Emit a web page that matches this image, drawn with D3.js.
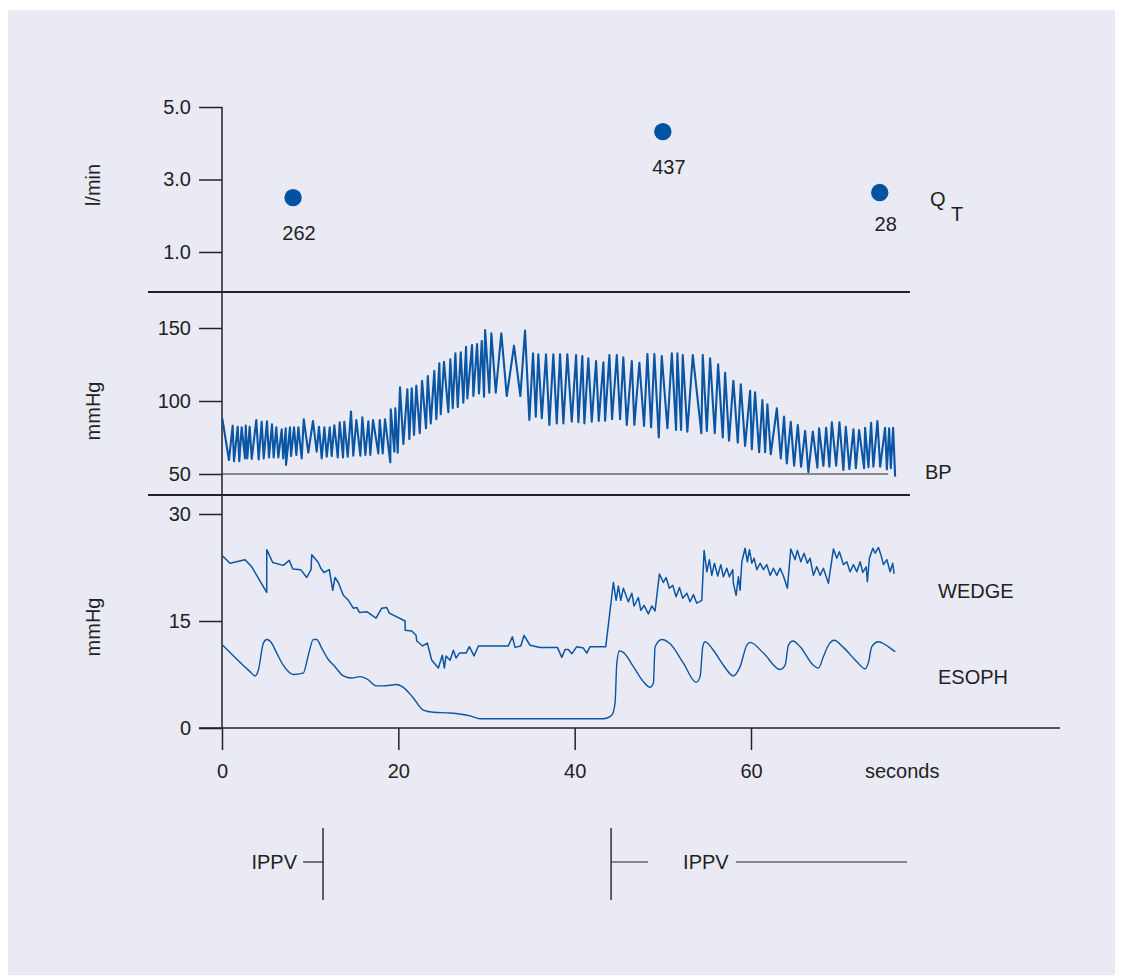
<!DOCTYPE html>
<html>
<head>
<meta charset="utf-8">
<script src="https://cdn.jsdelivr.net/npm/d3@7"></script>
<style>
  html, body { margin: 0; padding: 0; background: #ffffff; }
  svg { display: block; }
  text { font-family: "Liberation Sans", Arial, Helvetica, sans-serif; fill: #222; }
</style>
</head>
<body>
<svg id="chart" width="1122" height="979"></svg>
<script>
// ---------------- DATA ----------------
// Cardiac output (QT) samples: time (s), l/min, label
const qtTime = [8.06, 50.0, 74.6];
const qtValue = [2.5, 4.32, 2.64];
const qtLabels = ["262", "437", "28"];

// Tick labels
const qTicks = [5.0, 3.0, 1.0];
const bpTicks = [150, 100, 50];
const pTicks = [30, 15, 0];
const xTicks = [0, 20, 40, 60];

// Arterial blood pressure trace (mmHg) - alternating peaks / troughs
const bpTime = [0.03,0.79,1.21,1.36,1.78,1.96,2.23,2.61,2.69,2.87,3.14,3.37,3.89,4.16,4.50,4.73,5.10,5.33,5.67,5.86,6.16,6.39,6.77,6.95,7.23,7.26,7.71,7.83,8.17,8.43,8.66,9.04,9.27,9.79,10.32,10.74,11.00,11.31,11.61,11.88,12.22,12.44,12.74,13.13,13.35,13.73,13.87,14.26,14.63,14.89,15.24,15.69,15.92,16.26,16.60,16.82,17.13,17.73,17.89,18.23,18.49,19.09,19.14,19.55,19.66,19.93,20.19,20.57,21.02,21.25,21.52,21.78,22.04,22.43,22.69,23.14,23.34,23.68,24.08,24.31,24.65,24.81,25.18,25.67,25.90,26.17,26.47,26.74,27.08,27.37,27.68,27.83,28.36,28.51,28.93,29.15,29.46,29.72,29.84,30.32,30.55,31.05,31.68,32.30,33.12,33.84,34.37,34.86,35.28,35.59,35.88,36.27,36.75,37.13,37.58,37.97,38.34,38.72,39.17,39.67,40.16,40.42,40.87,41.10,41.55,41.94,42.43,42.73,43.26,43.45,43.94,44.24,44.78,45.15,45.52,45.91,46.48,46.77,47.34,47.87,48.25,48.67,49.04,49.54,49.88,50.52,51.02,51.50,51.65,52.07,52.26,52.78,53.40,54.37,54.53,54.99,55.36,55.89,56.27,56.80,57.06,57.51,58.00,58.50,58.84,59.33,59.90,60.09,60.46,60.92,61.29,61.60,61.86,62.24,62.93,63.38,63.75,64.06,64.51,64.89,65.31,65.68,66.14,66.51,67.01,67.53,67.72,68.21,68.52,68.89,69.17,69.66,70.03,70.48,70.75,71.16,71.62,71.89,72.26,72.83,72.94,73.32,73.62,73.88,74.34,74.65,75.21,75.41,75.67,75.86,76.12,76.35];
const bpValue = [88.1,59.6,83.1,58.7,82.4,58.7,82.0,60.7,83.1,60.7,82.4,60.3,87,60.0,85.8,60.7,86.1,61.4,84.0,61.4,82,61.4,80.6,60.7,81.3,56.2,82,62.3,82,63,82,60.7,87.5,64.6,86.3,65.3,82.4,60.7,82,61.9,82,62.3,83.3,61.4,85.4,61.4,85.8,61.9,92.7,62.6,87,62.6,88.8,63,86.1,63,87,64.1,87,64.1,87.5,58,94.3,65.3,95,64.6,109.4,70.5,108,73.8,108.7,76.7,110.5,77.9,113.9,81.3,117.1,84.7,120.6,87.5,125.8,90.9,126.9,92.3,128.6,95,132.7,95.7,133.4,98.8,137.2,101.8,138.4,103.4,139,105.2,141.1,102.9,148.6,105.7,146.4,105.7,146.4,103.4,137.9,103.4,148.2,87,132.7,89.3,132,88.2,132,83.6,132,84.7,132,84.7,132,85.8,131.5,85.4,130.8,84.7,129.2,85.8,127.4,86.3,126.5,86.5,131.5,87.5,131.5,87.5,129.9,83.6,127.4,83.6,126.2,82.9,132.2,82,132.2,75.1,130.8,81.3,132.7,80.1,132.7,80.1,131.5,79,131.5,77.9,131.5,79.5,129.2,77.9,125.1,75.1,119.4,72.8,113.9,71.4,111.4,69.2,107,66.9,106,64.9,100.7,64.9,97.7,63.5,95,60.7,89.3,57.3,85.8,55.7,83.6,55,79.5,51.2,79,54.3,81.3,55.5,81.7,55,85.4,55.7,85.4,52.7,82.4,53.4,80.6,53.9,80.1,53.9,81.7,54.6,85.1,55,86.3,55,81.7,53.2,81.3,53.9,81.7,48.2];
const bpBaseline = 50;
const bpBaselineEnd = 75.55;

// Pulmonary wedge pressure (mmHg)
const wedgeTime = [0.08,0.91,2.61,3.37,5.07,5.08,5.75,6.95,7.63,8.02,8.93,9.61,10.10,10.18,10.92,11.20,11.57,12.17,12.56,12.82,13.19,13.76,14.33,14.89,15.28,15.58,16.42,17.47,18.12,18.68,18.98,20.76,20.78,21.52,22.01,22.09,22.77,23.29,23.79,24.54,24.99,25.22,25.41,25.87,26.24,26.55,26.92,27.68,28.05,28.59,29.08,32.48,32.93,33.24,33.89,34.26,34.94,36.07,38.04,38.54,38.91,39.28,39.67,40.24,40.99,41.37,41.75,43.53,44.39,44.70,44.96,45.23,45.52,46.09,46.48,46.74,47.22,47.50,47.87,48.36,48.75,49.12,49.61,50.06,50.37,50.74,51.13,51.50,51.88,52.26,52.72,53.09,53.47,53.85,54.42,54.68,54.99,55.28,55.55,55.85,56.23,56.57,56.87,57.25,57.55,57.93,58.00,58.31,58.57,58.76,58.96,59.33,59.59,59.82,60.09,60.35,60.66,61.03,61.41,61.79,62.17,62.54,62.93,63.30,63.68,64.13,64.51,65.00,65.26,65.65,66.02,66.40,66.70,67.08,67.46,67.84,68.21,68.78,69.35,69.73,70.03,70.48,70.87,71.24,71.62,72.00,72.38,72.68,73.06,73.20,73.43,73.82,74.08,74.45,74.73,75.02,75.41,75.78,76.08,76.23];
const wedgeValue = [24.1,23.1,23.6,22.6,19.0,25.0,23.2,22.8,23.5,22.3,22.2,21.1,22.2,24.3,23.2,22.4,21.8,22.2,19.3,21.1,20.4,18.6,17.9,16.8,16.9,16.2,16.3,15.4,16.8,16.9,16.1,15.0,13.7,13.6,13.0,12.2,11.5,11.9,9.5,8.4,10.2,8.4,10.1,9.5,10.9,9.8,10.5,10.5,11.4,10.1,11.5,11.5,12.8,11.3,11.5,13.0,11.6,11.3,11.3,9.9,11.0,11.0,10.4,11.4,11.2,10.5,11.4,11.4,20.4,17.9,19.9,17.9,19.6,17.7,18.9,17.1,18.3,16.5,17.2,16.0,17.1,16.4,21.6,20.4,21.1,19.6,20.0,18.4,19.7,18.2,18.9,17.7,18.7,17.5,17.9,24.9,21.9,23.6,21.4,23.1,21.3,22.9,21.2,22.4,21.2,22.2,20.3,18.6,21.2,19.3,23.3,25.2,23.3,25.0,23.1,23.8,22.2,23.1,22.2,22.9,21.4,22.4,21.4,22.4,21.3,19.6,25.1,23.6,24.9,23.3,24.5,23.1,23.8,21.4,22.6,21.4,22.4,20.3,25.1,23.8,24.7,22.9,23.3,21.9,22.9,21.9,23.3,21.8,22.6,20.5,23.8,25.2,24.5,25.3,24.3,22.9,23.6,21.9,23.1,21.6];

// Oesophageal pressure (mmHg)
const esophTime = [0.08,3.18,3.74,4.12,4.69,5.07,5.52,6.21,6.95,8.09,9.22,9.79,10.36,10.74,11.31,12.06,12.82,13.76,14.71,15.65,16.42,17.55,18.30,19.82,20.57,21.70,22.84,23.97,25.87,28.13,29.27,43.26,44.21,44.58,44.78,45.07,45.52,46.66,47.79,48.55,48.93,49.12,49.88,50.82,52.33,53.77,54.23,54.53,54.79,55.73,56.87,58.00,58.76,59.52,59.90,61.41,63.30,63.87,64.24,64.74,65.57,67.08,67.65,68.21,68.78,69.43,70.48,72.00,72.94,73.32,73.70,74.45,75.21,76.35];
const esophValue = [11.6,7.9,7.3,8.1,11.9,12.4,12.1,10.5,8.8,7.5,7.7,10.2,12.4,12.4,11.2,9.6,8.6,7.3,7.0,7.2,6.9,5.9,5.9,6.1,5.7,4.2,2.5,2.2,2.1,1.7,1.3,1.3,1.8,3.5,9.1,10.8,10.6,8.6,6.5,5.7,6.3,11.4,12.4,11.8,9.1,6.4,7.2,11.4,12.1,10.9,8.8,7.3,8.6,11.6,12.0,10.5,8.2,8.8,11.6,12.2,11.4,8.8,8.4,10.0,11.6,12.3,11.3,9.3,8.3,9.2,11.4,12.1,11.7,10.7];

// IPPV (ventilation) markers: off at ~11.5 s, on again at ~44.1 s
const ippvOff = 11.46;
const ippvOn = 44.13;
const ippvEnd = 77.7;

const seriesLabels = { bp: "BP", wedge: "WEDGE", esoph: "ESOPH" };

// ---------------- CHART ----------------
const svg = d3.select("#chart");
const ink = "#222";
const blue = "#0a56a4";
const fs = 20;

svg.append("rect").attr("x", 8).attr("y", 10).attr("width", 1107).attr("height", 965)
  .attr("fill", "#eaeaf5");

const x = d3.scaleLinear().domain([0, 60]).range([222, 751]);
const yQ = d3.scaleLinear().domain([1, 5]).range([252, 107]);
const yBP = d3.scaleLinear().domain([50, 150]).range([474, 328]);
const yP = d3.scaleLinear().domain([0, 30]).range([728, 514]);

// main vertical axis line
svg.append("line").attr("x1", x(0)).attr("x2", x(0)).attr("y1", yQ(5)).attr("y2", yP(0))
  .attr("stroke", ink).attr("stroke-width", 1.5);

// Y axes with d3.axisLeft
function yAxis(scale, ticks, fmt) {
  const g = svg.append("g").attr("transform", `translate(${x(0)},0)`)
    .call(d3.axisLeft(scale).tickValues(ticks).tickFormat(fmt).tickSize(23).tickPadding(8));
  g.select(".domain").remove();
  g.selectAll(".tick line").attr("stroke", ink).attr("stroke-width", 1.5);
  g.selectAll(".tick text").attr("font-size", fs).attr("fill", ink)
    .attr("font-family", "'Liberation Sans', Arial, sans-serif");
  return g;
}
yAxis(yQ, qTicks, d3.format(".1f"));
yAxis(yBP, bpTicks, d3.format("d"));
yAxis(yP, pTicks, d3.format("d"));

// X axis
const xAxisG = svg.append("g").attr("transform", `translate(0,${yP(0)})`)
  .call(d3.axisBottom(x).tickValues(xTicks).tickFormat(d3.format("d")).tickSize(22).tickPadding(14));
xAxisG.select(".domain").remove();
xAxisG.selectAll(".tick line").attr("stroke", ink).attr("stroke-width", 1.5);
xAxisG.selectAll(".tick text").attr("font-size", fs).attr("fill", ink)
  .attr("font-family", "'Liberation Sans', Arial, sans-serif");
svg.append("line").attr("x1", 199).attr("x2", 1060).attr("y1", yP(0)).attr("y2", yP(0))
  .attr("stroke", ink).attr("stroke-width", 1.5);
svg.append("text").attr("x", 865).attr("y", 778).attr("font-size", fs).text("seconds");

// Panel separators
[292, 495].forEach(yy => {
  svg.append("line").attr("x1", 148).attr("x2", 910).attr("y1", yy).attr("y2", yy)
    .attr("stroke", ink).attr("stroke-width", 2);
});

// Axis titles
function vTitle(txt, cx, cy) {
  svg.append("text").attr("transform", `translate(${cx},${cy}) rotate(-90)`)
    .attr("text-anchor", "middle").attr("dominant-baseline", "middle")
    .attr("font-size", fs).text(txt);
}
vTitle("l/min", 95, 185);
vTitle("mmHg", 95, 411);
vTitle("mmHg", 95, 627);

// QT dots
const qt = d3.zip(qtTime, qtValue, qtLabels);
svg.selectAll("circle.qt").data(qt).join("circle").attr("class", "qt")
  .attr("cx", d => x(d[0])).attr("cy", d => yQ(d[1])).attr("r", 8.7).attr("fill", "#0052a3");
svg.selectAll("text.qtl").data(qt).join("text").attr("class", "qtl")
  .attr("x", d => x(d[0]) + 6).attr("y", d => yQ(d[1]) + (d[2] === "28" ? 33 : 37))
  .attr("text-anchor", "middle").attr("dominant-baseline", "middle")
  .attr("font-size", fs).text(d => d[2]);
svg.append("text").attr("x", 930).attr("y", 206).attr("font-size", fs).text("Q");
svg.append("text").attr("x", 951).attr("y", 221).attr("font-size", fs).text("T");

// BP trace
const bpData = d3.zip(bpTime, bpValue);
svg.append("line").attr("x1", x(0)).attr("x2", x(bpBaselineEnd))
  .attr("y1", yBP(bpBaseline)).attr("y2", yBP(bpBaseline))
  .attr("stroke", ink).attr("stroke-width", 1.2);
svg.append("path").datum(bpData)
  .attr("d", d3.line().x(d => x(d[0])).y(d => yBP(d[1])))
  .attr("fill", "none").attr("stroke", blue).attr("stroke-width", 2.1)
  .attr("stroke-linejoin", "round");
svg.append("text").attr("x", 925).attr("y", 479).attr("font-size", fs).text(seriesLabels.bp);

// Wedge trace
const wedgeData = d3.zip(wedgeTime, wedgeValue);
svg.append("path").datum(wedgeData)
  .attr("d", d3.line().x(d => x(d[0])).y(d => yP(d[1])))
  .attr("fill", "none").attr("stroke", blue).attr("stroke-width", 1.5)
  .attr("stroke-linejoin", "round");
svg.append("text").attr("x", 938).attr("y", 598).attr("font-size", fs).text(seriesLabels.wedge);

// Esoph trace
const esophData = d3.zip(esophTime, esophValue);
svg.append("path").datum(esophData)
  .attr("d", d3.line().x(d => x(d[0])).y(d => yP(d[1])).curve(d3.curveMonotoneX))
  .attr("fill", "none").attr("stroke", blue).attr("stroke-width", 1.4);
svg.append("text").attr("x", 938).attr("y", 684).attr("font-size", fs).text(seriesLabels.esoph);

// IPPV markers
const yMid = 862;
svg.append("line").attr("x1", x(ippvOff)).attr("x2", x(ippvOff)).attr("y1", 828).attr("y2", 900)
  .attr("stroke", ink).attr("stroke-width", 1.4);
svg.append("line").attr("x1", x(ippvOff) - 20).attr("x2", x(ippvOff)).attr("y1", yMid).attr("y2", yMid)
  .attr("stroke", ink).attr("stroke-width", 1.2);
svg.append("text").attr("x", x(ippvOff) - 26).attr("y", yMid + 7).attr("text-anchor", "end")
  .attr("font-size", fs).text("IPPV");

svg.append("line").attr("x1", x(ippvOn)).attr("x2", x(ippvOn)).attr("y1", 828).attr("y2", 900)
  .attr("stroke", ink).attr("stroke-width", 1.4);
svg.append("line").attr("x1", x(ippvOn)).attr("x2", x(ippvOn) + 37).attr("y1", yMid).attr("y2", yMid)
  .attr("stroke", ink).attr("stroke-width", 1.2);
svg.append("text").attr("x", x(ippvOn) + 72).attr("y", yMid + 7)
  .attr("font-size", fs).text("IPPV");
svg.append("line").attr("x1", x(ippvOn) + 125).attr("x2", x(ippvEnd)).attr("y1", yMid).attr("y2", yMid)
  .attr("stroke", ink).attr("stroke-width", 1.2);
</script>
</body>
</html>
